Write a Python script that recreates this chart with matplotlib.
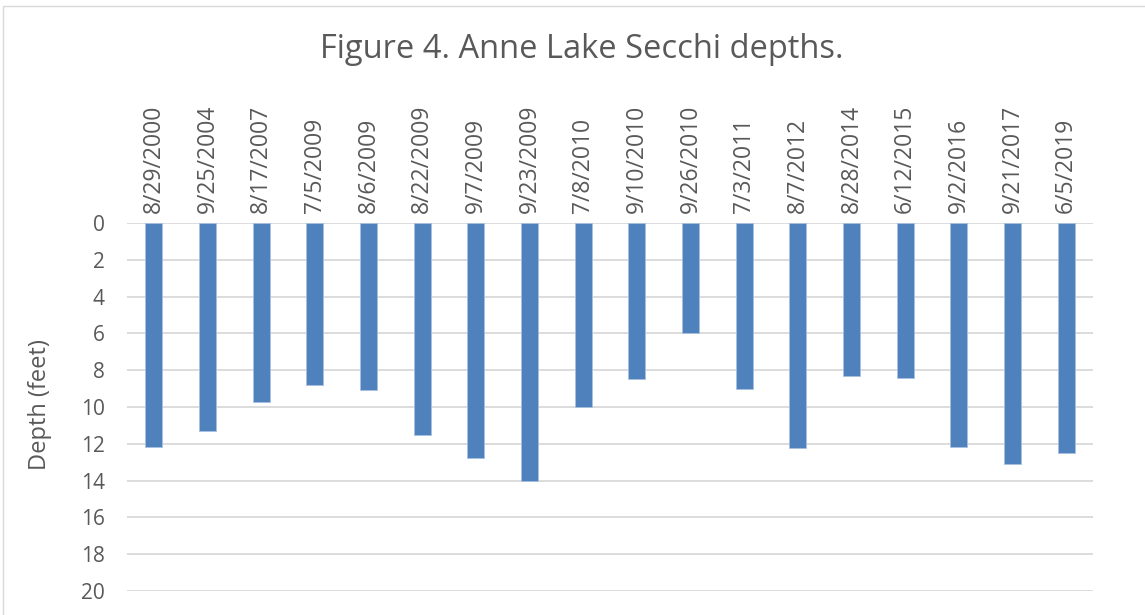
import matplotlib
matplotlib.use("Agg")
import matplotlib.pyplot as plt
from matplotlib.patches import Rectangle

dates = ["8/29/2000", "9/25/2004", "8/17/2007", "7/5/2009", "8/6/2009", "8/22/2009",
         "9/7/2009", "9/23/2009", "7/8/2010", "9/10/2010", "9/26/2010", "7/3/2011",
         "8/7/2012", "8/28/2014", "6/12/2015", "9/2/2016", "9/21/2017", "6/5/2019"]
depths = [12.15, 11.3, 9.75, 8.8, 9.05, 11.5, 12.75, 14.0, 10.0, 8.5, 6.0, 9.0,
          12.25, 8.3, 8.4, 12.15, 13.1, 12.5]
yticks = list(range(0, 21, 2))

plt.rcParams['font.family'] = ['Open Sans', 'DejaVu Sans']
txt = '#595959'

fig = plt.figure(figsize=(11.45, 6.15), dpi=100)
ax = fig.add_axes([127/1145, 1-591/615, (1093-127)/1145, (591-223)/615])

x = range(len(dates))
ax.bar(x, depths, width=0.32, color='#4f81bd', edgecolor='#a9c1e0', linewidth=0.6, zorder=3)
ax.set_xlim(-0.5, len(dates)-0.5)
ax.set_ylim(20, 0)
ax.set_yticks(yticks)
ax.set_yticklabels([str(v) for v in yticks], fontsize=15, color=txt)
ax.grid(axis='y', color='#d9d9d9', linewidth=1.3, zorder=0)
ax.set_axisbelow(True)
ax.xaxis.tick_top()
ax.set_xticks(list(x))
ax.set_xticklabels(dates, rotation=90, fontsize=16.5, color=txt)
ax.tick_params(length=0)
ax.tick_params(axis='y', pad=16)
ax.tick_params(axis='x', pad=7)
for s in ax.spines.values():
    s.set_visible(False)

fig.text(40/1145, 1-405/615, "Depth (feet)", fontsize=17, color=txt,
         rotation=90, ha='center', va='center')
fig.text(582/1145, 1-50/615, "Figure 4. Anne Lake Secchi depths.", fontsize=23.5,
         color=txt, ha='center', va='center')
fig.patches.append(Rectangle((3/1145, -0.01), 1.0, 1-6/615+0.01, transform=fig.transFigure,
                             fill=False, edgecolor='#d9d9d9', linewidth=1.0))

fig.savefig("out.png", dpi=100)
